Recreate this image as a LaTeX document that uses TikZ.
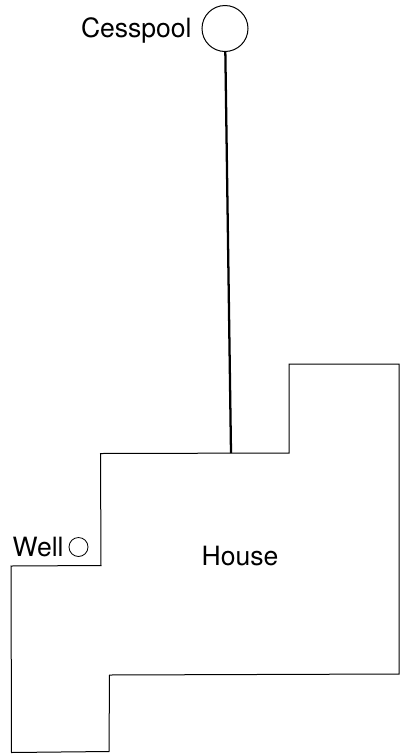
\documentclass[tikz,border=0pt]{standalone}
\usepackage{fontspec}
\setmainfont{TeX Gyre Heros}
\usetikzlibrary{positioning}

\begin{document}
\begin{tikzpicture}[x=0.75pt, y=-0.75pt]
\tikzset{
  pit/.style={draw, circle, inner sep=0pt, line width=0.75pt},
  lbl/.style={inner sep=0pt, font=\fontsize{19.9pt}{23pt}\selectfont}
}
\useasboundingbox (0,0) rectangle (402,754);

\node (cesspool) [pit, minimum size=34.5pt] at (225,28.5) {};
\node (well) [pit, minimum size=14.25pt, line width=0.6pt] at (78.5,547) {};
\node (cesspoollabel) [lbl, left=7.2pt of cesspool, yshift=-1.5pt] {Cesspool};
\node (welllabel) [lbl, left=3.6pt of well] {Well};
\node (houselabel) [lbl] at (240,556) {House};

\draw[line width=0.75pt] (100.5,453.5) -- (289,453) -- (289,364) -- (399,364) -- (399,674) -- (109.5,675) -- (109,751.5) -- (11.5,752.5) -- (11,566) -- (101,565.5) -- cycle;

\coordinate (roof) at (231,453);
\draw[line width=1.7pt] (cesspool) -- (roof);
\end{tikzpicture}
\end{document}
